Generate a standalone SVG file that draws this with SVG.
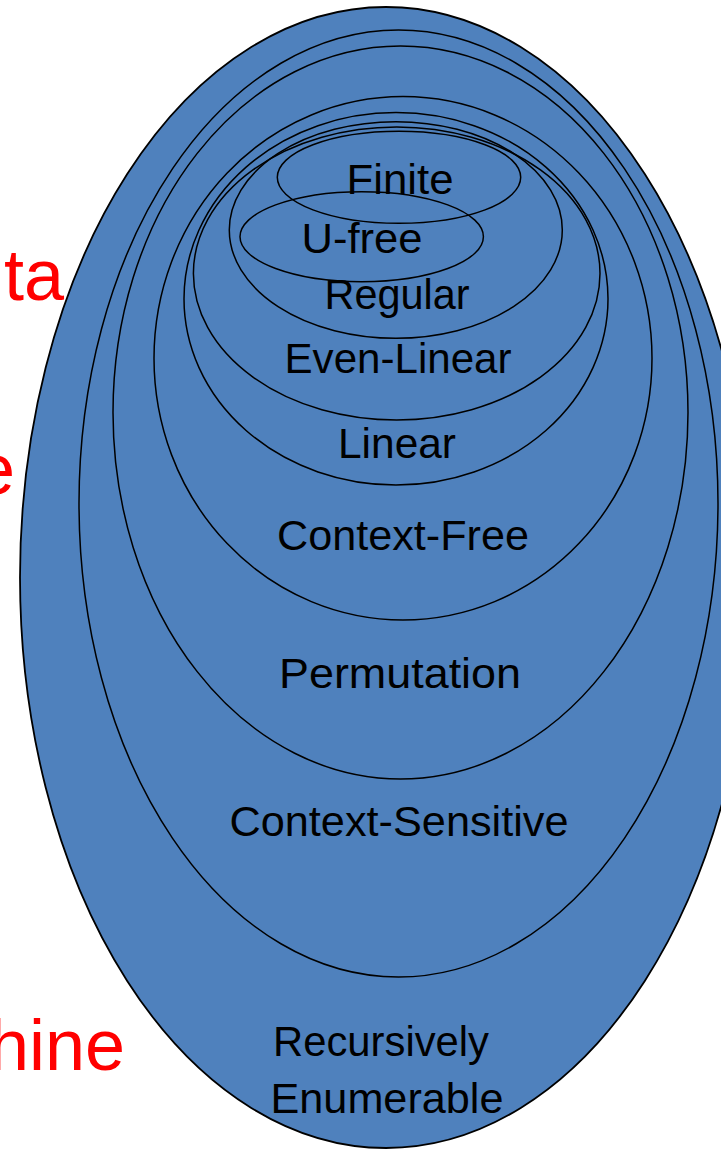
<svg xmlns="http://www.w3.org/2000/svg" width="721" height="1150" viewBox="0 0 721 1150">
<style>
.bg{fill:#fff}
.outer{fill:#4F81BD;stroke:#000;stroke-width:1.8}
.ring{fill:none;stroke:#000;stroke-width:1.5}
.lbl{font-family:"Liberation Sans",Arial,sans-serif;font-size:43px;fill:#000;text-anchor:middle}
.red{font-family:"Liberation Sans",Arial,sans-serif;font-size:72px;fill:#FF0000;text-anchor:end}
</style>
<rect class="bg" x="0" y="0" width="721" height="1150"/>
<g id="side-labels">
<text class="red" x="64" y="300">ta</text>
<text class="red" x="15" y="494">e</text>
<text class="red" x="125" y="1070">hine</text>
</g>
<g id="recursively-enumerable">
<ellipse class="outer" cx="386" cy="577.5" rx="366" ry="570.5"/>
<text class="lbl" x="381" y="1056" textLength="216" lengthAdjust="spacingAndGlyphs">Recursively</text>
<text class="lbl" x="387" y="1113" textLength="233" lengthAdjust="spacingAndGlyphs">Enumerable</text>
</g>
<g id="context-sensitive">
<ellipse class="ring" cx="398.5" cy="503.5" rx="319.5" ry="473.5"/>
<text class="lbl" x="399" y="836" textLength="339" lengthAdjust="spacingAndGlyphs">Context-Sensitive</text>
</g>
<g id="permutation">
<ellipse class="ring" cx="400.5" cy="412.5" rx="287.5" ry="366.5"/>
<text class="lbl" x="400" y="688" textLength="242" lengthAdjust="spacingAndGlyphs">Permutation</text>
</g>
<g id="context-free">
<ellipse class="ring" cx="403" cy="358.3" rx="249" ry="261.7"/>
<text class="lbl" x="403" y="550" textLength="252" lengthAdjust="spacingAndGlyphs">Context-Free</text>
</g>
<g id="linear">
<ellipse class="ring" cx="396" cy="298.8" rx="212" ry="186.2"/>
<text class="lbl" x="397" y="458" textLength="118" lengthAdjust="spacingAndGlyphs">Linear</text>
</g>
<g id="even-linear">
<ellipse class="ring" cx="396.7" cy="273.5" rx="203.3" ry="146.5"/>
<text class="lbl" x="398" y="373" textLength="227" lengthAdjust="spacingAndGlyphs">Even-Linear</text>
</g>
<g id="regular">
<ellipse class="ring" cx="395.8" cy="230" rx="166.5" ry="108.3"/>
<text class="lbl" x="397" y="309" textLength="145" lengthAdjust="spacingAndGlyphs">Regular</text>
</g>
<g id="finite">
<ellipse class="ring" cx="399" cy="177.3" rx="121.7" ry="46"/>
<text class="lbl" x="400" y="194" textLength="107" lengthAdjust="spacingAndGlyphs">Finite</text>
</g>
<g id="u-free">
<ellipse class="ring" cx="361.7" cy="236.7" rx="121.7" ry="45"/>
<text class="lbl" x="362" y="253" textLength="121" lengthAdjust="spacingAndGlyphs">U-free</text>
</g>
<g id="connectors"></g>
</svg>
